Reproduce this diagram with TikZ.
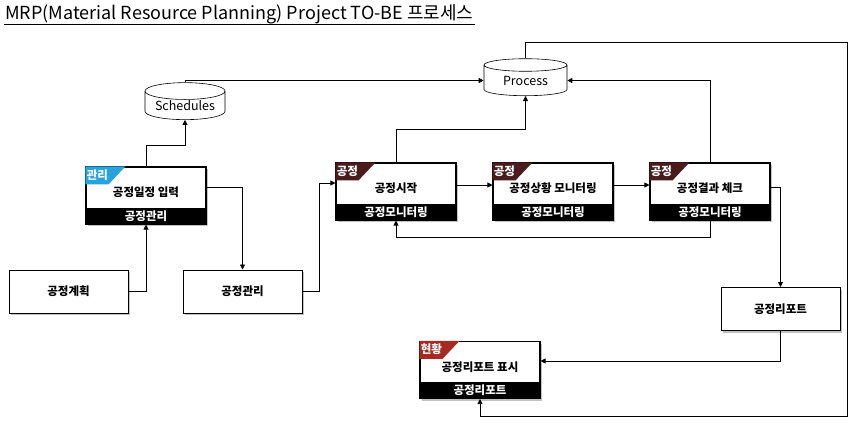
\documentclass[tikz,border=0pt]{standalone}
\usepackage{fontspec}
\setmainfont{Noto Sans CJK KR}
\usetikzlibrary{shapes.geometric,arrows.meta,shadows,calc}
\definecolor{tagblue}{HTML}{29A3DC}
\definecolor{tagbrown}{HTML}{4A1C1E}
\definecolor{tagred}{HTML}{A62A22}
\tikzset{
  ln/.style={draw, line width=0.8pt},
  arr/.style={draw, line width=0.8pt, -{Triangle[length=5pt,width=5pt]}},
  shad/.style={drop shadow={shadow xshift=2pt, shadow yshift=-2pt, fill=black!30, opacity=0.8}},
  pbox/.style={draw, line width=1.1pt, fill=white, minimum width=120pt, minimum height=57pt, inner sep=0pt, shad},
  plainbox/.style={draw, line width=1pt, fill=white, minimum width=119pt, minimum height=43pt, inner sep=0pt, shad, font=\fontsize{11.5}{13}\selectfont\bfseries},
  maintxt/.style={font=\fontsize{11.5}{13}\selectfont\bfseries, inner sep=0pt},
  striptxt/.style={font=\fontsize{11.5}{13}\selectfont\bfseries, text=white, inner sep=0pt},
  tagtxt/.style={font=\fontsize{11.5}{13}\selectfont\bfseries, text=white, inner sep=0pt},
  cyl/.style={cylinder, shape border rotate=90, draw, line width=0.6pt, fill=white, aspect=0.28, inner sep=0pt, minimum height=37pt, font=\fontsize{12.5}{14}\selectfont},
}
\newcommand\tagbox[6]{%
  \node[pbox] (#1) at (#2) {};
  \fill[black] (#1.south west) rectangle ($(#1.south east)+(0,-17)$);
  \node[striptxt] (#1-s) at ($(#1.south)+(0,-8.5)$) {#6};
  \fill[#4] (#1.north west) -- ++(40,0) -- ++(-17,18) -- ++(-23,0) -- cycle;
  \node[tagtxt] (#1-t) at ($(#1.north west)+(12,8.5)$) {#3};
  \node[maintxt] (#1-m) at ($(#1.center)+(0,-3)$) {#5};
}
\begin{document}
\begin{tikzpicture}[x=1pt,y=-1pt]
\useasboundingbox[fill=white] (0,0) rectangle (856,426);

\node[anchor=west, inner sep=1pt, font=\fontsize{18}{20}\selectfont] (title) at (4,14) {MRP(Material Resource Planning) Project TO-BE 프로세스};
\draw[line width=0.8pt] (title.south west) -- (title.south east);

% cylinders
\node[cyl, minimum width=80pt] (sch) at (185,105.5) {Schedules};
\node[cyl, minimum width=83pt] (proc) at (525.5,80.5) {Process};

% tagged boxes
\tagbox{g1}{146,195.5}{관리}{tagblue}{공정일정 입력}{공정관리}
\tagbox{s1}{396,191.5}{공정}{tagbrown}{공정시작}{공정모니터링}
\tagbox{s2}{553,191.5}{공정}{tagbrown}{공정상황 모니터링}{공정모니터링}
\tagbox{s3}{710,191.5}{공정}{tagbrown}{공정결과 체크}{공정모니터링}
\tagbox{hy}{480,370}{현황}{tagred}{공정리포트 표시}{공정리포트}

% plain boxes
\node[plainbox] (p1) at (68.5,291.5) {공정계획};
\node[plainbox] (m2) at (242.5,291.5) {공정관리};
\node[plainbox] (rep) at (780.5,309) {공정리포트};

\coordinate (c1) at (847,42);
\coordinate (c2) at (847,416);

% connectors
\draw[arr] (p1.east) -| (g1.south);
\draw[arr] (g1.north) -- ++(0,-21) -| (sch.south);
\draw[arr] (sch.north) |- (proc.west);
\draw[arr] ($(g1.east)+(0,-8.5)$) -| (m2.north);
\draw[arr] (m2.east) -- ++(17,0) |- ($(s1.west)+(0,-8.5)$);
\draw[arr] (s1.north) -- ++(0,-33) -| (proc.south);
\draw[arr] (s3.north) |- (proc.east);
\draw[arr] ($(s1.east)+(0,-6.5)$) -- ($(s2.west)+(0,-6.5)$);
\draw[arr] ($(s2.east)+(0,-6.5)$) -- ($(s3.west)+(0,-6.5)$);
\draw[arr] (s3.south) -- ++(0,17) -| (s1.south);
\draw[arr] ($(s3.east)+(0,-4.5)$) -| (rep.north);
\draw[arr] (rep.south) |- ($(hy.east)+(0,-9)$);
\draw[arr] (proc.north) |- (c1) -- (c2) -| (hy.south);
\end{tikzpicture}
\end{document}
